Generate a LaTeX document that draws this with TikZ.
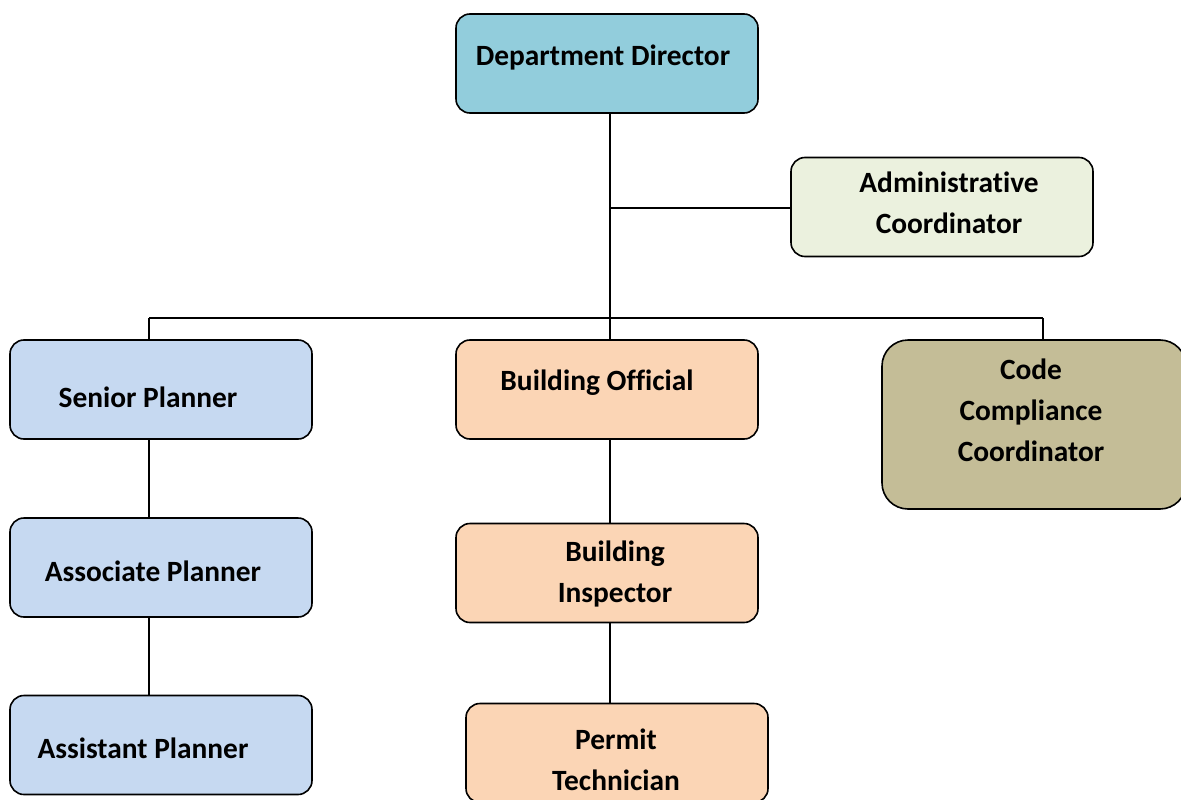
\documentclass[tikz,border=0pt]{standalone}
\usepackage{fontspec}
\setmainfont{Carlito}[Ligatures=NoCommon]
\definecolor{cDir}{HTML}{92CDDC}
\definecolor{cAdm}{HTML}{EBF1DE}
\definecolor{cPlan}{HTML}{C6D9F1}
\definecolor{cBld}{HTML}{FBD5B5}
\definecolor{cCode}{HTML}{C4BD97}
\tikzset{
  box/.style={draw=black, line width=1.6pt, rounded corners=14pt, minimum width=302pt, minimum height=99pt, inner sep=0pt},
  lbl/.style={font=\bfseries\fontsize{29.4}{41}\selectfont, align=center, inner sep=0pt, text=black},
  conn/.style={draw=black, line width=1.6pt}
}
\begin{document}
\begin{tikzpicture}[x=1pt,y=-1pt]
\useasboundingbox (0,0) rectangle (1181,800);
\fill[white] (0,0) rectangle (1181,800);
% boxes
\node[box, fill=cDir] (dd) at (607,63.5) {};
\node[box, fill=cAdm] (ac) at (942,207) {};
\node[box, fill=cPlan] (sp) at (161,389.5) {};
\node[box, fill=cBld] (bo) at (607,389.5) {};
\node[box, fill=cCode, rounded corners=26pt, minimum width=304pt, minimum height=169pt] (cc) at (1034,424.5) {};
\node[box, fill=cPlan] (ap) at (161,567.5) {};
\node[box, fill=cBld] (bi) at (607,573) {};
\node[box, fill=cPlan] (asp) at (161,745) {};
\node[box, fill=cBld] (pt) at (617,753) {};
% labels
\node[lbl] (tdd) at (603,57.5) {Department Director};
\node[lbl] (tac) at (949,202.5) {Administrative\\Coordinator};
\node[lbl] (tsp) at (148,397) {Senior Planner};
\node[lbl] (tbo) at (597,382.5) {Building Official};
\node[lbl] (tcc) at (1031,410.5) {Code\\Compliance\\Coordinator};
\node[lbl] (tap) at (153,571) {Associate Planner};
\node[lbl] (tbi) at (615,574) {Building\\Inspector};
\node[lbl] (tasp) at (143,748) {Assistant Planner};
\node[lbl] (tpt) at (616,760) {Permit\\Technician};
% connectors
\coordinate (j1) at (610,208);
\coordinate (j2) at (610,318);
\coordinate (jl) at (149,318);
\coordinate (jr) at (1043,318);
\draw[conn] (dd.south -| j1) -- (bo.north -| j1);
\draw[conn] (j1) -- (ac.west |- j1);
\draw[conn] (jl) -- (jr);
\draw[conn] (jl) -- (sp.north -| jl);
\draw[conn] (jr) -- (cc.north -| jr);
\draw[conn] (sp.south -| jl) -- (ap.north -| jl);
\draw[conn] (ap.south -| jl) -- (asp.north -| jl);
\draw[conn] (bo.south -| j1) -- (bi.north -| j1);
\draw[conn] (bi.south -| j1) -- (pt.north -| j1);
\end{tikzpicture}
\end{document}
